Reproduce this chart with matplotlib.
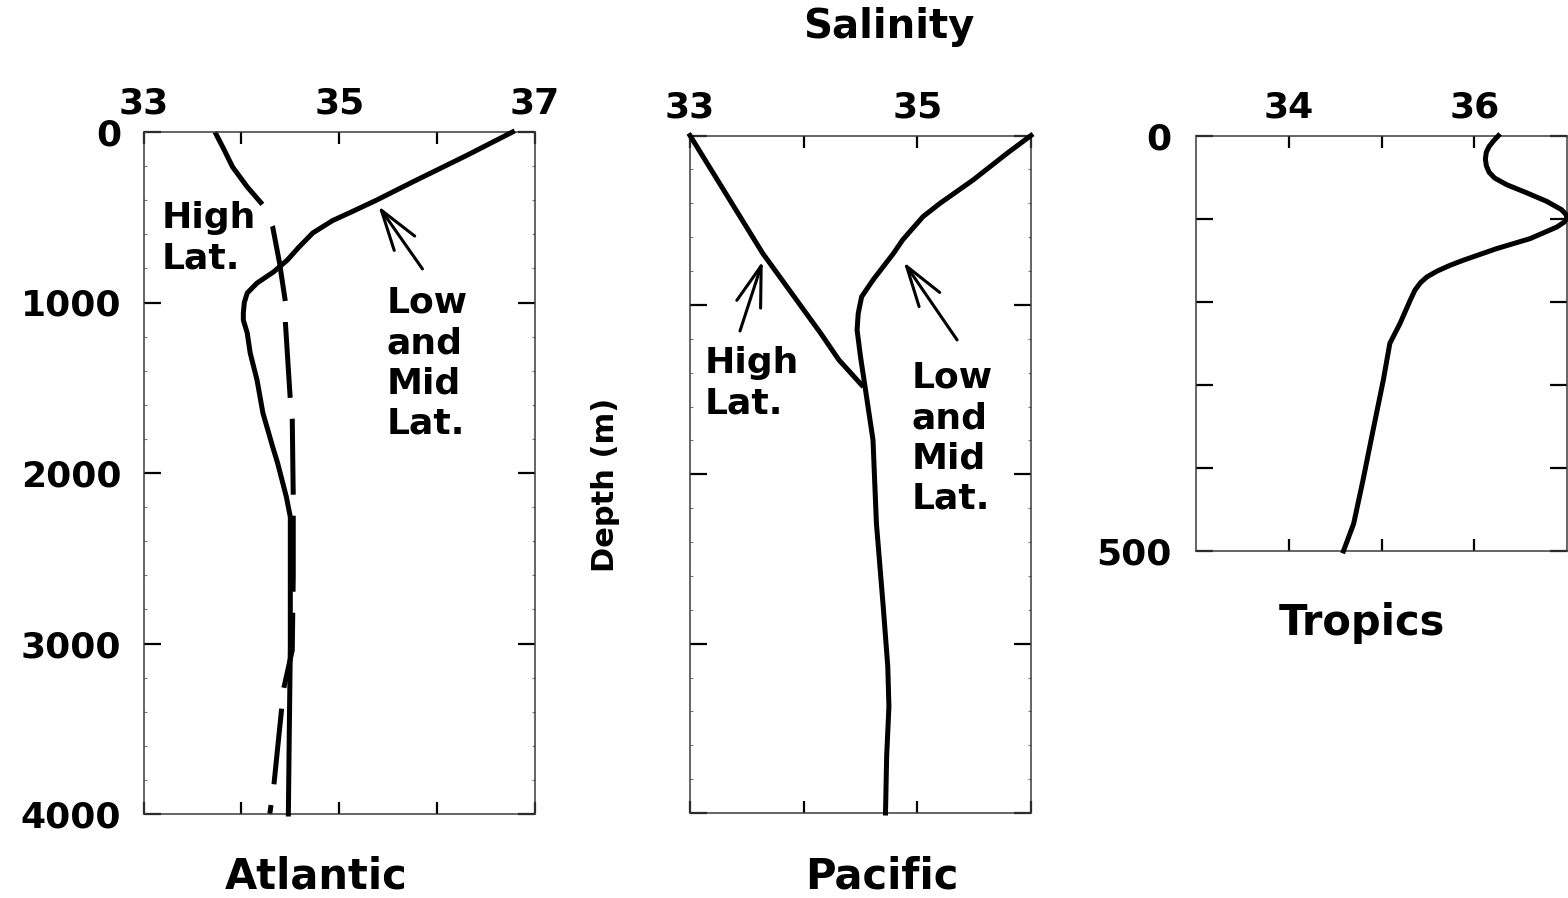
import matplotlib
matplotlib.use("Agg")
import matplotlib.pyplot as plt
from matplotlib.ticker import MultipleLocator

# ---------------- data ----------------
atl_low_depth = [0, 135, 293, 400, 470, 520, 592, 680, 751, 820, 886, 944, 1000, 1062,
                 1103, 1179, 1296, 1455, 1648, 1847, 1941, 2141, 2258, 2628, 3020, 3500, 4000]
atl_low_sal = [36.77, 36.31, 35.75, 35.38, 35.12, 34.93, 34.73, 34.58, 34.47, 34.33, 34.16, 34.06, 34.03, 34.02,
               34.02, 34.06, 34.09, 34.16, 34.22, 34.32, 34.37, 34.46, 34.50, 34.50, 34.50, 34.49, 34.48]

atl_high_depth = [0, 100, 205, 322, 428, 557, 768, 997, 1120, 1572, 1689, 2141, 2600,
                  3039, 3270, 3390, 3842, 4000]
atl_high_sal = [33.73, 33.82, 33.91, 34.06, 34.22, 34.32, 34.39, 34.45, 34.45, 34.50, 34.52, 34.53, 34.53,
                34.52, 34.43, 34.41, 34.33, 34.29]

pac_high_depth = [0, 696, 1168, 1325, 1473]
pac_high_sal = [33.00, 33.64, 34.15, 34.31, 34.51]

pac_low_depth = [0, 105, 263, 400, 479, 617, 696, 853, 952, 1050, 1148, 1306, 1483, 1798, 2290, 2782,
                 3136, 3372, 3667, 4000]
pac_low_sal = [36.00, 35.79, 35.49, 35.20, 35.05, 34.87, 34.79, 34.61, 34.51, 34.48, 34.47, 34.50, 34.54,
               34.61, 34.64, 34.70, 34.74, 34.75, 34.73, 34.72]

trop_depth = [0, 6, 13, 20, 28, 36, 44, 51, 59, 69, 79, 89, 95, 99, 104, 110, 124, 136, 150, 156,
              163, 170, 177, 186, 198, 226, 250, 294, 354, 415, 467, 500]
trop_sal = [36.26, 36.21, 36.16, 36.13, 36.12, 36.13, 36.16, 36.22, 36.35, 36.57, 36.78, 36.94, 36.99,
            37.00, 36.97, 36.89, 36.60, 36.24, 35.88, 35.74, 35.60, 35.49, 35.42, 35.36, 35.31, 35.20,
            35.09, 35.02, 34.91, 34.80, 34.70, 34.59]

atl_xticks = [33, 34, 35, 36, 37]
atl_xlabels = ["33", "", "35", "", "37"]
deep_yticks = [0, 1000, 2000, 3000, 4000]
deep_ylabels = ["0", "1000", "2000", "3000", "4000"]
pac_xticks = [33, 34, 35, 36]
pac_xlabels = ["33", "", "35", ""]
trop_xticks = [34, 35, 36]
trop_xlabels = ["34", "", "36"]
trop_yticks = [0, 100, 200, 300, 400, 500]
trop_ylabels = ["0", "", "", "", "", "500"]

# ---------------- figure ----------------
W, H = 1568, 898
fig = plt.figure(figsize=(W / 100, H / 100), dpi=100)
plt.rcParams["font.family"] = ["DejaVu Sans"]
FONT = dict(family="DejaVu Sans", weight="bold")


def px_axes(l, r, t, b):
    return fig.add_axes([l / W, 1 - b / H, (r - l) / W, (b - t) / H])


ax1 = px_axes(143.5, 535, 132, 814)
ax2 = px_axes(690, 1031, 135.5, 813)
ax3 = px_axes(1196, 1567, 135.7, 551)

LW = 3.6
TICKFS = 26
ANNFS = 26
LS = 1.23


def style(ax, xticks, xlabels, yticks, ylabels, minor=None, ypad=16.0):
    for s in ax.spines.values():
        s.set_color("#3a3a3a")
        s.set_linewidth(1.1)
    ax.xaxis.set_ticks_position("both")
    ax.yaxis.set_ticks_position("both")
    ax.set_xticks(xticks)
    ax.set_xticklabels(xlabels)
    ax.set_yticks(yticks)
    ax.set_yticklabels(ylabels)
    ax.tick_params(axis="x", which="major", direction="in", length=8.6, width=1.6,
                   top=True, bottom=True, labeltop=True, labelbottom=False, pad=8.0,
                   labelsize=TICKFS, color="black")
    ax.tick_params(axis="y", which="major", direction="in", length=12, width=1.6,
                   left=True, right=True, labelleft=True, labelright=False, pad=ypad,
                   labelsize=TICKFS, color="black")
    if minor:
        ax.yaxis.set_minor_locator(MultipleLocator(minor))
        ax.tick_params(axis="y", which="minor", direction="in", length=2.5, width=0.8,
                       left=True, right=True, color="#777777")
    ax.tick_params(axis="x", which="minor", top=False, bottom=False)
    for lab in ax.get_xticklabels() + ax.get_yticklabels():
        lab.set_fontweight("bold")


ARROW = dict(arrowstyle="->,head_length=2.9,head_width=0.9", lw=2.2,
             color="black", shrinkA=0, shrinkB=0, mutation_scale=10)

# Atlantic
ax1.plot(atl_low_sal, atl_low_depth, color="black", lw=LW, clip_on=False, zorder=3)
dash_seq = (17.4, 4.8) + (15.2, 4.2) * 10
ax1.plot(atl_high_sal, atl_high_depth, color="black", lw=LW, linestyle=(0, dash_seq),
         dash_capstyle="butt", clip_on=False, zorder=2)
ax1.set_xlim(33, 37)
ax1.set_ylim(4000, 0)
style(ax1, atl_xticks, atl_xlabels, deep_yticks, deep_ylabels, minor=200, ypad=16.0)

ax1.text(33.19, 405, "High\nLat.", ha="left", va="top", fontsize=ANNFS, linespacing=LS, **FONT)
ax1.text(35.48, 903, "Low\nand\nMid\nLat.", ha="left", va="top", fontsize=ANNFS, linespacing=LS, **FONT)
ax1.annotate("", xy=(35.40, 434), xytext=(35.85, 803), arrowprops=ARROW)

# Pacific
ax2.plot(pac_low_sal, pac_low_depth, color="black", lw=LW, clip_on=False, zorder=3)
ax2.plot(pac_high_sal, pac_high_depth, color="black", lw=LW, clip_on=False, zorder=3)
ax2.set_xlim(33, 36)
ax2.set_ylim(4000, 0)
style(ax2, pac_xticks, pac_xlabels, deep_yticks, [""] * 5, minor=200)

ax2.text(33.13, 1243, "High\nLat.", ha="left", va="top", fontsize=ANNFS, linespacing=LS, **FONT)
ax2.text(34.95, 1331, "Low\nand\nMid\nLat.", ha="left", va="top", fontsize=ANNFS, linespacing=LS, **FONT)
ax2.annotate("", xy=(33.64, 741), xytext=(33.44, 1154), arrowprops=ARROW)
ax2.annotate("", xy=(34.88, 747), xytext=(35.35, 1207), arrowprops=ARROW)

# Tropics
ax3.plot(trop_sal, trop_depth, color="black", lw=LW, clip_on=False, zorder=3)
ax3.set_xlim(33, 37)
ax3.set_ylim(500, 0)
style(ax3, trop_xticks, trop_xlabels, trop_yticks, trop_ylabels, minor=None, ypad=17.5)

# Titles / labels
fig.text(889 / W, 1 - 38 / H, "Salinity", ha="center", va="baseline", fontsize=29, **FONT)
fig.text(316 / W, 1 - 897.5 / H, "Atlantic", ha="center", va="bottom", fontsize=30, **FONT)
fig.text(882 / W, 1 - 897.5 / H, "Pacific", ha="center", va="bottom", fontsize=30, **FONT)
fig.text(1362 / W, 1 - 635 / H, "Tropics", ha="center", va="baseline", fontsize=30, **FONT)
fig.text(614 / W, 1 - 485 / H, "Depth (m)", ha="center", va="baseline", rotation=90,
         rotation_mode="anchor", fontsize=22, **FONT)

fig.savefig("out.png", dpi=100, facecolor="white")
